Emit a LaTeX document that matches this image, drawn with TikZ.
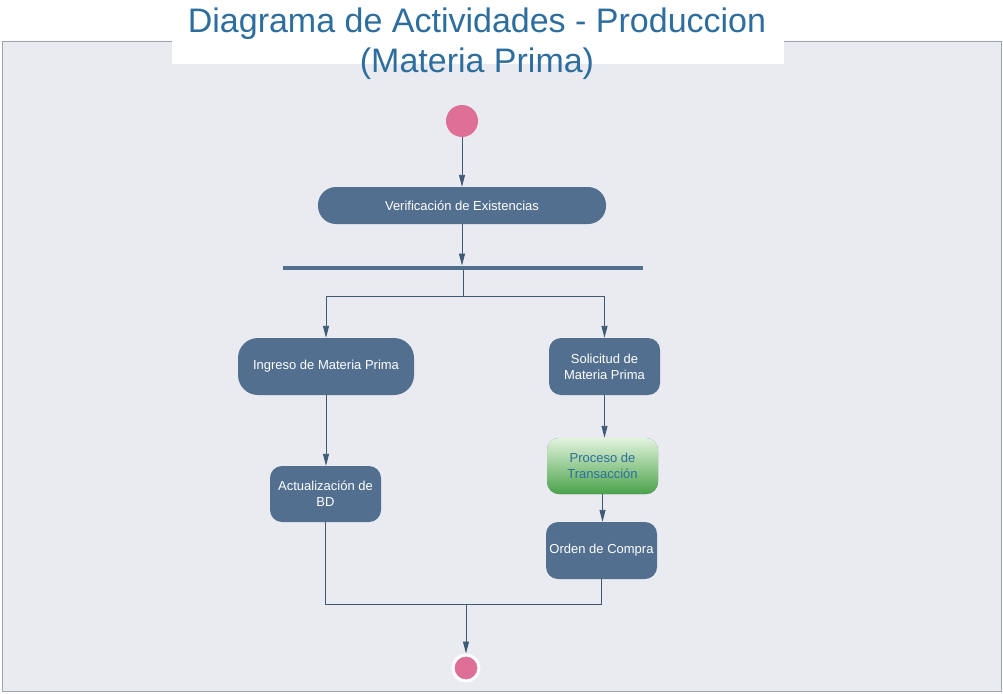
\documentclass[tikz,border=0pt]{standalone}
\usepackage{fontspec}
\setmainfont{Liberation Sans}
\usetikzlibrary{positioning,arrows.meta,calc}
\definecolor{panel}{HTML}{E9EBF0}
\definecolor{frame}{HTML}{9AA5B1}
\definecolor{slate}{HTML}{526F8F}
\definecolor{wire}{HTML}{3F5A75}
\definecolor{rose}{HTML}{DE7097}
\definecolor{titleblue}{HTML}{2E6E9E}
\definecolor{mint}{HTML}{E2F3DD}
\definecolor{leaf}{HTML}{4AA24A}

\begin{document}
\begin{tikzpicture}[x=1pt, y=-1pt,
  act/.style={fill=slate, text=white, font=\fontsize{13}{16}\selectfont,
    align=center, inner sep=0pt, rounded corners=12pt},
  flow/.style={draw=wire, line width=0.9pt, -{Triangle[length=12pt, width=6pt]}},
  wireline/.style={draw=wire, line width=0.9pt}]
  % canvas 1003 x 693, y runs downward
  \useasboundingbox (0,0) rectangle (1003,693);

  % panel and title strip
  \draw[fill=panel, draw=frame, line width=0.6pt] (2,41) rectangle (1001,691);
  \fill[white] (172,0) rectangle (784,64);
  \node[font=\fontsize{34}{40}\selectfont, text=titleblue, align=center, inner sep=0pt]
    (title) at (477,43.5) {Diagrama de Actividades - Produccion\\(Materia Prima)};

  % start and end
  \node[circle, fill=rose, minimum size=32pt, inner sep=0pt] (start) at (462,121) {};
  \node[circle, fill=rose, draw=white, line width=3pt, minimum size=26pt, inner sep=0pt]
    (stop) at (466,668) {};

  % activities
  \node[act, minimum width=288pt, minimum height=37pt, rounded corners=18pt]
    (verif) at (462,205.5) {Verificación de Existencias};
  \node[fill=slate, minimum width=360pt, minimum height=4.5pt, inner sep=0pt]
    (fork) at (463,268) {};
  \node[act, minimum width=176pt, minimum height=57pt, rounded corners=20pt]
    (ingreso) at (326,366.5) {Ingreso de Materia Prima};
  \node[act, minimum width=111pt, minimum height=57pt]
    (solicitud) at (604.5,366.5) {Solicitud de\\Materia Prima};
  \node[act, minimum width=111pt, minimum height=56pt]
    (actual) at (325.5,494) {Actualización de\\BD};
  \node[act, minimum width=111pt, minimum height=56pt, text=titleblue,
    top color=mint, bottom color=leaf]
    (proceso) at (602.5,466) {Proceso de\\Transacción};
  \node[act, minimum width=111pt, minimum height=57pt]
    (orden) at (601.5,550.5) {Orden de Compra};

  \coordinate (split) at (463,296);
  \coordinate (merge) at (466,604);

  % connectors
  \draw[flow] (start) -- (verif);
  \draw[flow] (verif) -- (verif |- fork.north);
  \draw[wireline] (fork.south) -- (split);
  \draw[flow] (split) -| (ingreso.north);
  \draw[flow] (split) -| (solicitud.north);
  \draw[flow] (ingreso.south) -- (ingreso.south |- actual.north);
  \draw[flow] (solicitud.south) -- (solicitud.south |- proceso.north);
  \draw[flow] (proceso.south) -- (proceso.south |- orden.north);
  \draw[wireline] (actual.south) |- (merge);
  \draw[wireline] (orden.south) |- (merge);
  \draw[flow] (merge) -- (stop);
\end{tikzpicture}
\end{document}
